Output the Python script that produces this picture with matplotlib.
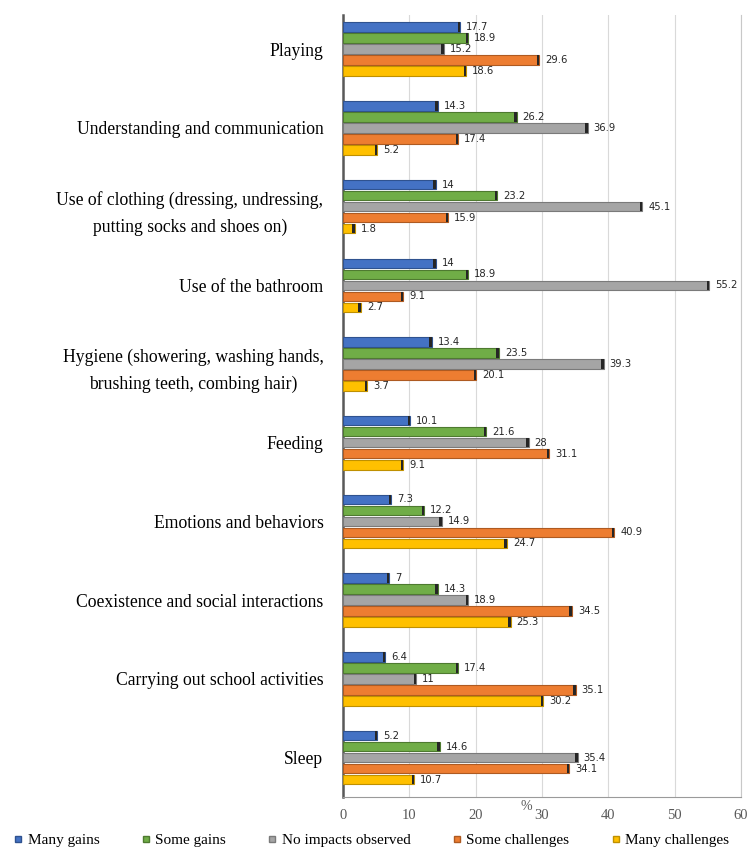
import numpy as np
import matplotlib.pyplot as plt
from matplotlib.lines import Line2D

categories = [
    'Playing',
    'Understanding and communication',
    'Use of clothing (dressing, undressing,\nputting socks and shoes on)',
    'Use of the bathroom',
    'Hygiene (showering, washing hands,\nbrushing teeth, combing hair)',
    'Feeding',
    'Emotions and behaviors',
    'Coexistence and social interactions',
    'Carrying out school activities',
    'Sleep',
]

many_gains = [17.7, 14.3, 14, 14, 13.4, 10.1, 7.3, 7, 6.4, 5.2]
some_gains = [18.9, 26.2, 23.2, 18.9, 23.5, 21.6, 12.2, 14.3, 17.4, 14.6]
no_impacts = [15.2, 36.9, 45.1, 55.2, 39.3, 28, 14.9, 18.9, 11, 35.4]
some_challenges = [29.6, 17.4, 15.9, 9.1, 20.1, 31.1, 40.9, 34.5, 35.1, 34.1]
many_challenges = [18.6, 5.2, 1.8, 2.7, 3.7, 9.1, 24.7, 25.3, 30.2, 10.7]

series_names = ['Many gains', 'Some gains', 'No impacts observed',
                'Some challenges', 'Many challenges']
series = [many_gains, some_gains, no_impacts, some_challenges, many_challenges]
colors = ['#4472C4', '#70AD47', '#A5A5A5', '#ED7D31', '#FFC000']
edges = ['#2F528F', '#4E7A30', '#7A7A7A', '#AE5A21', '#BF9000']

fig = plt.figure(figsize=(7.47, 8.51), dpi=100)
ax = fig.add_axes([0.459, 0.0635, 0.533, 0.9185])

y = np.arange(len(categories))
step = 0.14
height = 0.12

for i, (vals, c, ec) in enumerate(zip(series, colors, edges)):
    pos = y - 2 * step + i * step
    ax.barh(pos, vals, height=height, color=c, edgecolor=ec, linewidth=0.8, zorder=3)
    # dark end cap
    ax.barh(pos, [0.35] * len(vals), left=np.array(vals) - 0.35, height=height,
            color='#262626', linewidth=0, zorder=4)
    for p, v in zip(pos, vals):
        ax.text(v + 0.9, p, f'{v:g}', va='center', ha='left', fontsize=7.2,
                family='DejaVu Sans', color='#262626', zorder=5)

ax.set_xlim(0, 60)
ax.set_ylim(9.5, -0.43)
ax.set_xticks(np.arange(0, 61, 10))
ax.set_yticks(y)
ax.set_yticklabels(categories, family='Liberation Serif', fontsize=12.7,
                   linespacing=1.7, multialignment='center')
ax.tick_params(axis='y', length=0, pad=14)
ax.tick_params(axis='x', length=0, pad=9, labelsize=10.5, labelcolor='#595959')
for lab in ax.get_xticklabels():
    lab.set_family('Liberation Serif')

ax.grid(axis='x', color='#D9D9D9', linewidth=0.8, zorder=0)
ax.spines['top'].set_visible(False)
ax.spines['right'].set_color('#C8C8C8')
ax.spines['bottom'].set_color('#9A9A9A')
ax.spines['left'].set_color('#595959')
ax.spines['left'].set_linewidth(1.8)

ax.set_xlabel('%', family='Liberation Serif', fontsize=10, color='#595959')
ax.xaxis.set_label_coords(0.46, -0.004)

handles = [Line2D([0], [0], marker='s', linestyle='none', markersize=5,
                  markerfacecolor=c, markeredgecolor=ec) for c, ec in zip(colors, edges)]
fig.legend(handles, series_names, loc='lower center', bbox_to_anchor=(0.495, -0.012),
           ncol=5, frameon=False, prop={'family': 'Liberation Serif', 'size': 11},
           handletextpad=0.1, columnspacing=2.55, handlelength=1.0)

fig.savefig('out.png', dpi=100)
